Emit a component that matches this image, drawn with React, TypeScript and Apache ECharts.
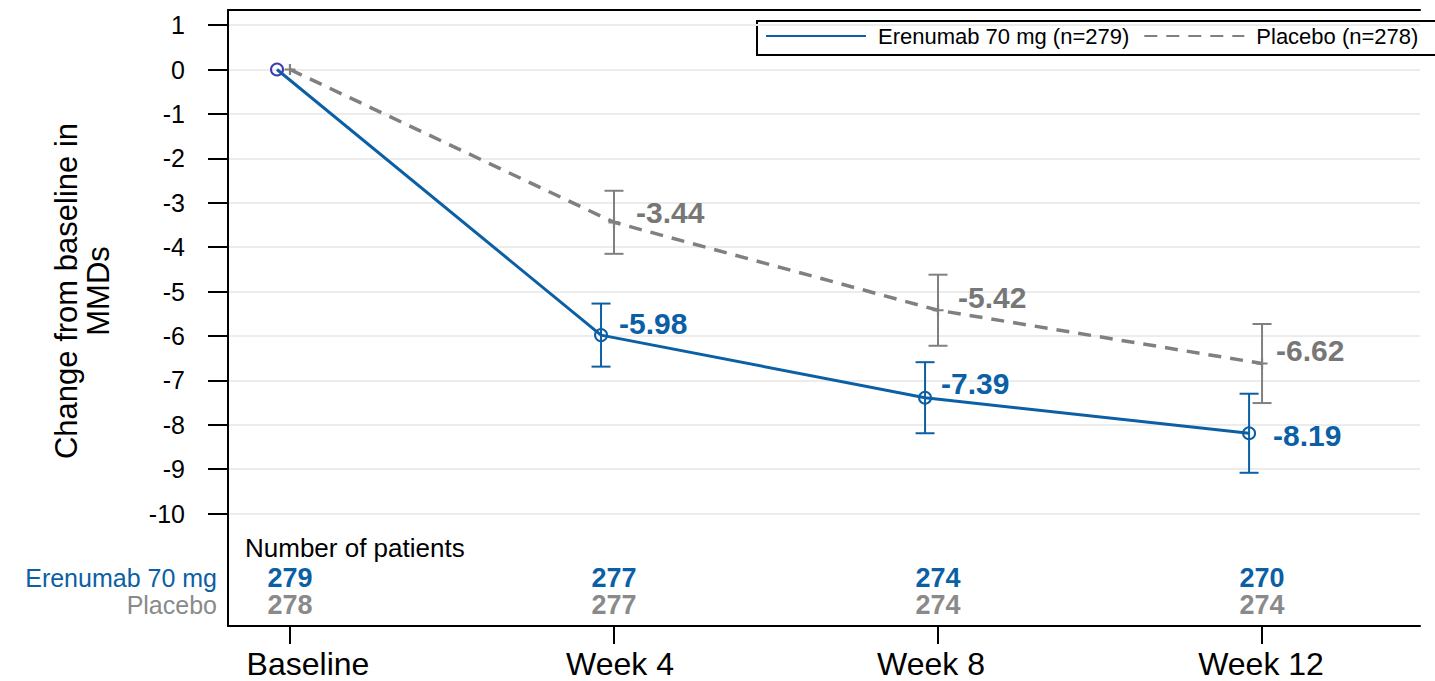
import React, { useEffect, useRef } from "react";
import * as echarts from "echarts";

// ---------- data ----------
const categories = ["Baseline", "Week 4", "Week 8", "Week 12"];
const weeks = [0, 4, 8, 12];
const erenumabMean = [0, -5.98, -7.39, -8.19];
const placeboMean = [0, -3.44, -5.42, -6.62];
const erenumabHalfCI = [0, 0.71, 0.8, 0.89];
const placeboHalfCI = [0, 0.71, 0.8, 0.89];
const erenumabN = [279, 277, 274, 270];
const placeboN = [278, 277, 274, 274];
const yTicks = [1, 0, -1, -2, -3, -4, -5, -6, -7, -8, -9, -10];
const seriesNames = ["Erenumab 70 mg (n=279)", "Placebo (n=278)"];
const rowLabels = ["Erenumab 70 mg", "Placebo"];
const yTitle = "Change from baseline in\nMMDs";
const countsTitle = "Number of patients";

// ---------- style / layout ----------
const FONT = "'Liberation Sans', Arial, Helvetica, sans-serif";
const BLUE = "#0b5fa5";
const GRAY = "#808080";
const GRAY_TEXT = "#777777";
const GRAY_LIGHT = "#8a8a8a";
const ER_OFFSET = -0.16; // horizontal dodge of erenumab points (weeks)
const ROW_Y_ER = -11.45;
const ROW_Y_PL = -12.06;
// label offsets (left edge dx, centre dy) relative to point, in px
const ER_LABEL_OFF = [[0, 0], [17, -12], [15, -14], [23, 2]];
const PL_LABEL_OFF = [[0, 0], [22, -10], [20, -13], [14, -13]];
// per-category x-label paddings [top, right, bottom, left]
const XLABEL_PAD = [[0, 0, 0, 36], [0, 0, 0, 12], [0, 14, 0, 0], [0, 2, 8, 0]];
const PLUS = "path://M4,0H6V4H10V6H6V10H4V6H0V4H4Z";

function errorBarSeries(name: string, xs: number[], mean: number[], ci: number[], color: string) {
  const data = xs
    .map((x, i) => [x, mean[i] - ci[i], mean[i] + ci[i]])
    .filter((d, i) => ci[i] > 0);
  return {
    type: "custom",
    name,
    data,
    z: 4,
    silent: true,
    renderItem: (params: any, api: any) => {
      const x = api.value(0);
      const lo = api.value(1);
      const hi = api.value(2);
      const pLo = api.coord([x, lo]);
      const pHi = api.coord([x, hi]);
      const hw = 9.5;
      const style = { stroke: color, lineWidth: 2, fill: "none" };
      return {
        type: "group",
        children: [
          { type: "line", shape: { x1: pLo[0], y1: pLo[1], x2: pHi[0], y2: pHi[1] }, style },
          { type: "line", shape: { x1: pLo[0] - hw, y1: pLo[1], x2: pLo[0] + hw, y2: pLo[1] }, style },
          { type: "line", shape: { x1: pHi[0] - hw, y1: pHi[1], x2: pHi[0] + hw, y2: pHi[1] }, style },
        ],
      };
    },
  };
}

export default function App() {
  const ref = useRef<HTMLDivElement>(null);

  useEffect(() => {
    document.body.style.margin = "0";
    if (!ref.current) return;
    const chart = echarts.init(ref.current, null, { renderer: "svg" });

    const erX = weeks.map((w) => w + ER_OFFSET);
    const xMin = -0.765;
    const xMax = 13.95;

    const rich: any = {};
    XLABEL_PAD.forEach((p, i) => {
      rich["c" + i] = { fontSize: 32, color: "#000", fontFamily: FONT, padding: p };
    });

    const option: any = {
      animation: false,
      backgroundColor: "#ffffff",
      textStyle: { fontFamily: FONT },
      grid: {
        left: 228,
        top: 10,
        width: 1192,
        height: 616,
        show: false,
        containLabel: false,
        outerBoundsMode: "none",
      },
      legend: {
        left: 757,
        top: 20,
        data: seriesNames,
        itemWidth: 100,
        itemHeight: 14,
        itemGap: 14,
        borderWidth: 0,
        padding: [5, 0, 5, 8],
        itemStyle: { opacity: 0, color: "rgba(0,0,0,0)", borderWidth: 0 },
        textStyle: { fontSize: 22, color: "#000", fontFamily: FONT, padding: [0, 0, 0, 7] },
      },
      xAxis: [
        {
          type: "value",
          min: xMin,
          max: xMax,
          position: "bottom",
          axisLine: { show: true, onZero: false, lineStyle: { color: "#000", width: 2 } },
          splitLine: { show: false },
          axisTick: {
            show: true,
            customValues: weeks,
            length: 18,
            lineStyle: { color: "#000", width: 2 },
          },
          axisLabel: {
            customValues: weeks,
            formatter: (v: number) => {
              const i = weeks.indexOf(v);
              return i < 0 ? "" : "{c" + i + "|" + categories[i] + "}";
            },
            rich,
            fontSize: 32,
            color: "#000",
            margin: 22,
            fontFamily: FONT,
          },
        },
        {
          type: "value",
          min: xMin,
          max: xMax,
          position: "top",
          axisLine: { show: true, onZero: false, lineStyle: { color: "#000", width: 2 } },
          splitLine: { show: false },
          axisTick: { show: false },
          axisLabel: { show: false },
        },
      ],
      yAxis: {
        type: "value",
        min: -12.53,
        max: 1.34,
        position: "left",
        axisLine: { show: true, onZero: false, lineStyle: { color: "#000", width: 2 } },
        axisTick: {
          show: true,
          customValues: yTicks,
          length: 20,
          lineStyle: { color: "#000", width: 2 },
        },
        axisLabel: {
          customValues: yTicks,
          fontSize: 25,
          color: "#000",
          margin: 43,
          fontFamily: FONT,
        },
        splitLine: { show: true, lineStyle: { color: "#ececec", width: 2 } },
      },
      graphic: [
        {
          type: "rect",
          left: 756,
          top: 20,
          shape: { width: 700, height: 34 },
          style: { fill: "rgba(0,0,0,0)", stroke: "#000", lineWidth: 2 },
          z: 0,
        },
        {
          type: "text",
          x: 82,
          y: 291,
          rotation: Math.PI / 2,
          style: {
            text: yTitle,
            fontSize: 31,
            fontFamily: FONT,
            fill: "#000",
            align: "center",
            verticalAlign: "middle",
            lineHeight: 32,
          },
        },
        {
          type: "text",
          x: 245,
          y: 548,
          style: { text: countsTitle, fontSize: 26, fontFamily: FONT, fill: "#000", align: "left", verticalAlign: "middle" },
        },
        {
          type: "text",
          x: 217,
          y: 578,
          style: { text: rowLabels[0], fontSize: 25, lineHeight: 25, fontFamily: FONT, fill: BLUE, align: "right", verticalAlign: "middle" },
        },
        {
          type: "text",
          x: 217,
          y: 605,
          style: { text: rowLabels[1], fontSize: 25, lineHeight: 25, fontFamily: FONT, fill: GRAY_LIGHT, align: "right", verticalAlign: "middle" },
        },
      ],
      series: [
        {
          type: "line",
          name: seriesNames[1],
          data: weeks.map((w, i) => [w, placeboMean[i]]),
          symbol: "none",
          z: 2,
          itemStyle: { color: GRAY },
          lineStyle: { color: GRAY, width: 3.5, type: [13, 9] },
        },
        {
          type: "line",
          name: seriesNames[0],
          data: erX.map((x, i) => [x, erenumabMean[i]]),
          symbol: "none",
          z: 3,
          itemStyle: { color: BLUE },
          lineStyle: { color: BLUE, width: 3 },
        },
        errorBarSeries("plErr", weeks, placeboMean, placeboHalfCI, GRAY),
        errorBarSeries("erErr", erX, erenumabMean, erenumabHalfCI, BLUE),
        {
          type: "scatter",
          name: "plPts",
          z: 5,
          symbol: PLUS,
          symbolSize: 11,
          itemStyle: { color: GRAY, opacity: 1 },
          data: weeks.map((w, i) => ({
            value: [w, placeboMean[i]],
            label: {
              show: i > 0,
              position: "right",
              distance: 5,
              offset: [PL_LABEL_OFF[i][0] - 10.5, PL_LABEL_OFF[i][1]],
            },
          })),
          label: {
            formatter: (p: any) => p.value[1].toFixed(2),
            fontSize: 30,
            fontWeight: "bold",
            color: GRAY_TEXT,
            fontFamily: FONT,
          },
        },
        {
          type: "scatter",
          name: "erPts",
          z: 6,
          symbol: "circle",
          symbolSize: 12,
          itemStyle: { color: "rgba(0,0,0,0)", borderColor: BLUE, borderWidth: 2, opacity: 1 },
          data: erX.map((x, i) => ({
            value: [x, erenumabMean[i]],
            itemStyle: i === 0 ? { borderColor: "#3c3cb0" } : undefined,
            label: {
              show: i > 0,
              position: "right",
              distance: 5,
              offset: [ER_LABEL_OFF[i][0] - 11, ER_LABEL_OFF[i][1]],
            },
          })),
          label: {
            formatter: (p: any) => p.value[1].toFixed(2),
            fontSize: 30,
            fontWeight: "bold",
            color: BLUE,
            fontFamily: FONT,
          },
        },
        {
          type: "scatter",
          name: "erN",
          z: 6,
          symbolSize: 1,
          itemStyle: { color: "rgba(0,0,0,0)", opacity: 1 },
          data: weeks.map((w, i) => [w, ROW_Y_ER, erenumabN[i]]),
          label: {
            show: true,
            position: "inside",
            formatter: (p: any) => String(p.value[2]),
            fontSize: 27,
            fontWeight: "bold",
            color: BLUE,
            fontFamily: FONT,
          },
        },
        {
          type: "scatter",
          name: "plN",
          z: 6,
          symbolSize: 1,
          itemStyle: { color: "rgba(0,0,0,0)", opacity: 1 },
          data: weeks.map((w, i) => [w, ROW_Y_PL, placeboN[i]]),
          label: {
            show: true,
            position: "inside",
            formatter: (p: any) => String(p.value[2]),
            fontSize: 27,
            fontWeight: "bold",
            color: GRAY_LIGHT,
            fontFamily: FONT,
          },
        },
      ],
    };

    chart.setOption(option);
    return () => chart.dispose();
  }, []);

  return (
    <div
      ref={ref}
      style={{ position: "fixed", left: 0, top: 0, width: 1435, height: 681, background: "#fff" }}
    />
  );
}
